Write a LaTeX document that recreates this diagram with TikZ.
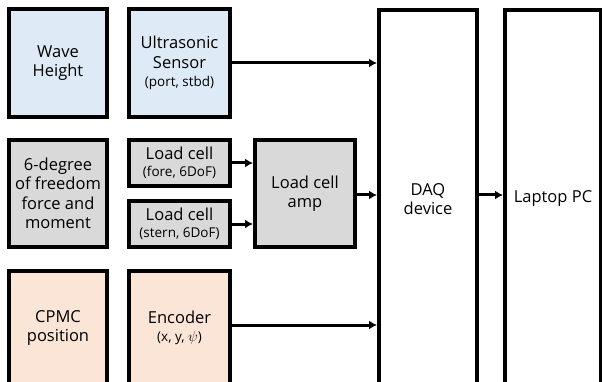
\documentclass[tikz,border=0pt]{standalone}
\usepackage{fontspec}
\setmainfont{Open Sans}
\usetikzlibrary{arrows.meta}
\definecolor{bluef}{HTML}{DEEBF7}
\definecolor{grayf}{HTML}{D9D9D9}
\definecolor{peachf}{HTML}{FBE5D6}
\newcommand{\smalltxt}{\fontsize{13.5}{16}\selectfont}
\begin{document}
\begin{tikzpicture}[x=1pt,y=-1pt,
  box/.style={draw=black,line width=4pt,rectangle,align=center,inner sep=0pt,
    font=\fontsize{16.5}{19.5}\selectfont},
  arr/.style={line width=3pt,-{Latex[length=8pt,width=9pt]}}]
\useasboundingbox (0,0) rectangle (602,382);
\clip (0,0) rectangle (602,382);
\fill[white] (0,0) rectangle (602,382);
% row 1
\node[box,fill=bluef,minimum width=98pt,minimum height=108pt] (wave) at (58,63) {Wave\\Height};
\node[box,fill=bluef,minimum width=101pt,minimum height=108pt] (ultra) at (179.5,63)
  {Ultrasonic\\Sensor\\[-1pt]{\smalltxt (port, stbd)}};
% row 2
\node[box,fill=grayf,minimum width=98pt,minimum height=107pt] (dof) at (58,193.5)
  {6-degree\\of freedom\\force and\\moment};
\node[box,fill=grayf,minimum width=101pt,minimum height=46pt] (fore) at (179.5,163)
  {Load cell\\[-3pt]{\smalltxt (fore, 6DoF)}};
\node[box,fill=grayf,minimum width=101pt,minimum height=46pt] (stern) at (179.5,224)
  {Load cell\\[-3pt]{\smalltxt (stern, 6DoF)}};
\node[box,fill=grayf,minimum width=100pt,minimum height=107pt] (amp) at (305,193.5)
  {Load cell\\amp};
% row 3
\node[box,fill=peachf,minimum width=98pt,minimum height=114pt] (cpmc) at (58,328)
  {CPMC\\position};
\node[box,fill=peachf,minimum width=101pt,minimum height=114pt] (enc) at (179.5,328)
  {Encoder\\[-1pt]{\smalltxt (x, y, $\psi$)}};
% right
\node[box,fill=white,minimum width=98pt,minimum height=378pt] (daq) at (428,199)
  {DAQ\\device};
\node[box,fill=white,minimum width=96pt,minimum height=378pt] (pc) at (553,199)
  {Laptop PC};
% arrows
\draw[arr] (ultra.east) -- (ultra.east -| daq.west);
\draw[arr] (enc.east |- 0,325) -- (daq.west |- 0,325);
\draw[arr] (fore.east) -- (fore.east -| amp.west);
\draw[arr] (stern.east) -- (stern.east -| amp.west);
\draw[arr] (amp.east |- 0,195) -- (daq.west |- 0,195);
\draw[arr] (daq.east |- 0,195) -- (pc.west |- 0,195);
\end{tikzpicture}
\end{document}
